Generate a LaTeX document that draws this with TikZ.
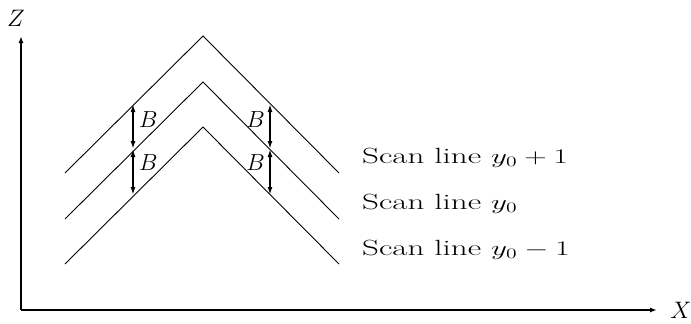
\documentclass[tikz,border=0pt]{standalone}
\usetikzlibrary{arrows.meta}
\newcommand{\wide}[2]{\scalebox{#1}[1]{#2}}
\begin{document}
\begin{tikzpicture}[x=1pt,y=-1pt,
  chev/.style={line width=0.9pt},
  axis/.style={line width=1.8pt,-{Latex[length=7pt,width=5pt]}},
  bar/.style={line width=1.6pt,{Latex[length=8pt,width=5pt]}-{Latex[length=8pt,width=5pt]}},
  barthick/.style={bar,line width=2.4pt},
  lbl/.style={font=\fontsize{20.74}{25}\selectfont,inner sep=0pt},
  sl/.style={font=\fontsize{22}{26}\selectfont,anchor=base west,inner sep=0pt}]
\useasboundingbox (0,0) rectangle (691,324);
\coordinate (O) at (21,310);
\coordinate (Ztip) at (21,36);
\coordinate (Xtip) at (657,310);
\draw[axis] (O) -- (Ztip);
\draw[axis] (O) -- (Xtip);
\node[lbl,anchor=base] (Z) at (16,26) {\scalebox{1.15}{$Z$}};
\node[lbl,anchor=base] (X) at (681,318) {\scalebox{1.15}{$X$}};
% chevrons
\coordinate (aL) at (65,173); \coordinate (aT) at (203,36); \coordinate (aR) at (339,173);
\coordinate (bL) at (65,219); \coordinate (bT) at (203,82); \coordinate (bR) at (339,219);
\coordinate (cL) at (65,264); \coordinate (cT) at (203,127); \coordinate (cR) at (339,264);
\draw[chev] (aL) -- (aT) -- (aR);
\draw[chev] (bL) -- (bT) -- (bR);
\draw[chev] (cL) -- (cT) -- (cR);
% arrows
\coordinate (l1) at (133,104); \coordinate (l2) at (133,149); \coordinate (l3) at (133,195);
\coordinate (r1) at (270,104); \coordinate (r2) at (270,149); \coordinate (r3) at (270,195);
\draw[bar] (l1) -- (l2);
\draw[bar] (l2) -- (l3);
\draw[barthick] (r1) -- (r2);
\draw[barthick] (r2) -- (r3);
\node[lbl,anchor=base west] (B1) at (139,127) {\scalebox{1.12}{$B$}};
\node[lbl,anchor=base west] (B2) at (139,170) {\scalebox{1.12}{$B$}};
\node[lbl,anchor=base east] (B3) at (265,127) {\scalebox{1.12}{$B$}};
\node[lbl,anchor=base east] (B4) at (265,170) {\scalebox{1.12}{$B$}};
\node[sl] (s1) at (362,163) {\wide{1.5}{Scan line $y_0+1$}};
\node[sl] (s2) at (362,209) {\wide{1.5}{Scan line $y_0$}};
\node[sl] (s3) at (362,255) {\wide{1.5}{Scan line $y_0-1$}};
\end{tikzpicture}
\end{document}
